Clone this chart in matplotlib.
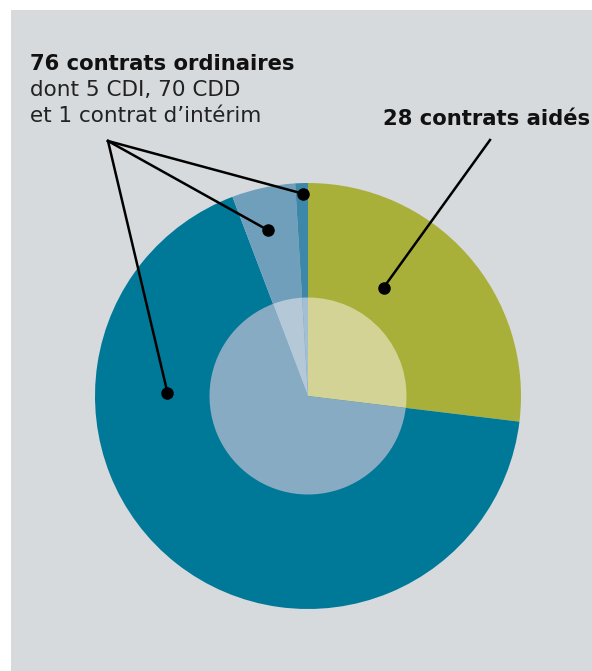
import numpy as np
import matplotlib
matplotlib.use("Agg")
import matplotlib.pyplot as plt
from matplotlib.patches import Rectangle

# contract counts, clockwise from 12 o'clock
categories = ["Contrats aidés", "CDD", "CDI", "Intérim"]
values = [28, 70, 5, 1]
colors = ["#a9b03a", "#007898", "#6f9fbb", "#3d88a8"]
inner_colors = ["#d3d396", "#87abc3", "#b4c8d8", "#a2bfd3"]

title_ordinaires = "76 contrats ordinaires"
detail_lines = ["dont 5 CDI, 70 CDD", "et 1 contrat d’intérim"]
title_aides = "28 contrats aidés"

W, H = 592, 671
fig = plt.figure(figsize=(W / 100, H / 100), dpi=100)
ax = fig.add_axes([0, 0, 1, 1])
fig.patch.set_facecolor("white")

cx, cy, R, r_in = 308, H - 396, 213, 98.5
wedges, _ = ax.pie(values, colors=colors, startangle=90, counterclock=False,
                   radius=R, center=(cx, cy), frame=True,
                   wedgeprops=dict(linewidth=0, zorder=2))
# lighter inner disc
ax.pie(values, colors=inner_colors, startangle=90, counterclock=False,
       radius=r_in, center=(cx, cy), frame=True,
       wedgeprops=dict(linewidth=0, zorder=3))

ax.set_xlim(0, W)
ax.set_ylim(0, H)
ax.set_aspect("equal")
ax.axis("off")

# grey panel
ax.add_patch(Rectangle((11, 0), W - 11, H - 10, color="#d6dadd", lw=0, zorder=0))

# anchor point in each wedge: (fraction of the sweep from its clockwise start, fraction of radius)
anchors = {0: (0.36, 0.62), 1: (0.72, 0.66), 2: (0.42, 0.80), 3: (0.6, 0.95)}
pts = {}
for i, (fa, fr) in anchors.items():
    w = wedges[i]
    ang = np.deg2rad(w.theta2 - fa * (w.theta2 - w.theta1))
    pts[i] = (cx + fr * R * np.cos(ang), cy + fr * R * np.sin(ang))

for i, (x, y) in pts.items():
    ax.plot(x, y, "o", color="black", ms=8, zorder=6)

# leader lines
hub = (108, H - 141)
for i in (1, 2, 3):
    ax.plot([hub[0], pts[i][0]], [hub[1], pts[i][1]], color="black", lw=1.8, zorder=5)
ax.plot([490, pts[0][0]], [H - 140, pts[0][1]], color="black", lw=1.8, zorder=5)

font = "DejaVu Sans"
ax.text(30, H - 70, title_ordinaires, fontsize=15.2, fontweight="bold",
        family=font, va="baseline", ha="left", color="#111111")
for k, line in enumerate(detail_lines):
    ax.text(30, H - 96 - 26 * k, line, fontsize=15.5, family=font,
            va="baseline", ha="left", color="#222222")
ax.text(590, H - 125, title_aides, fontsize=15.2, fontweight="bold",
        family=font, va="baseline", ha="right", color="#111111")

fig.savefig("out.png", dpi=100, facecolor="white")
